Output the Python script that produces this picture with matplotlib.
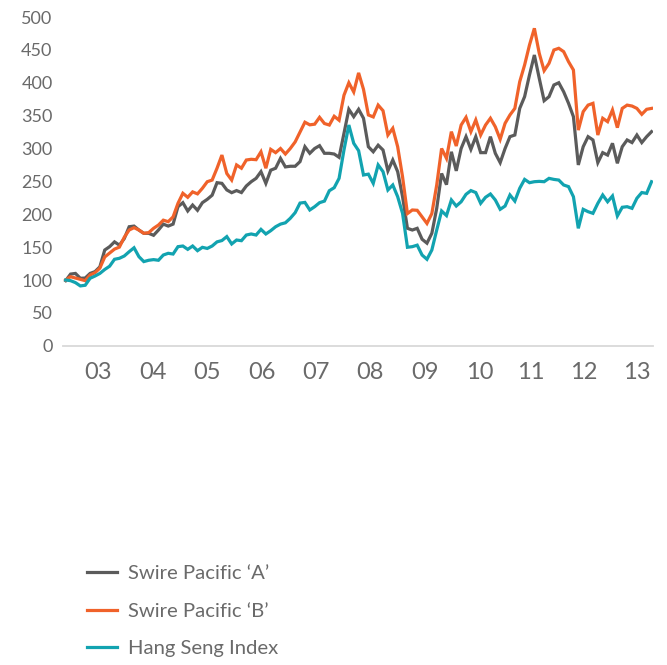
import matplotlib
matplotlib.use("Agg")
import matplotlib.pyplot as plt
import numpy as np

plt.rcParams['font.family'] = ['Lato', 'DejaVu Sans']

swire_a = [99, 109, 110, 102.6, 103, 110, 112.7, 120, 145.6, 150.7, 158, 153, 163, 181, 182, 176, 171, 171, 168, 176,
           185, 182, 185, 211.5, 217.6, 205, 214, 206, 217.6, 222.7, 229, 248, 247, 237,
           232.8, 236, 233, 243, 249.5, 254.6, 264.8, 247, 267, 270, 285, 272, 273, 273, 280, 302.7,
           292.7, 300, 304.3, 292.7, 292.7, 291.6, 286.6, 323, 359.6, 348.4, 359.6, 346, 302.7, 295, 305, 297.7,
           266, 282.5, 264.8, 226.7, 178.6, 176, 178.6, 162, 156, 171, 209, 262, 245,
           295, 266, 300, 318, 298.7, 318, 293.7, 293.7, 318, 292.7, 278.5, 300, 318, 320.5, 361, 378.8,
           411.8, 442.2, 406.8, 372.7, 378.8, 396.6, 400, 386.3, 368.7, 348.4, 275, 302.7, 318, 313, 278.5,
           293.7, 290, 307.9, 277.5, 302.7, 313, 309, 320.5, 309, 318, 325.6]

swire_b = [100, 105, 103, 101, 99, 107.6, 111, 118, 135, 141, 147, 150, 165, 176, 179.6, 176, 171, 172, 178.6, 183.6,
           191, 188.7, 196, 216.6, 231.9, 225.8, 234, 231, 239.5, 249.5, 252, 270, 290, 262,
           252, 275, 270, 282.5, 283.6, 283, 295, 270, 298.7, 293.7, 300, 291.6, 300, 310, 325, 340,
           336, 337, 347.4, 338, 335.7, 349, 343, 381, 400, 386, 415, 390, 351, 348, 366, 357.5,
           320.5, 330.7, 302.7, 257, 201, 206.5, 206, 196, 186, 201, 244.5, 300, 285,
           325.6, 303.8, 335.7, 347.4, 325.6, 343.4, 320.5, 335.7, 346, 333, 314, 338.3, 351, 361, 401.6, 427,
           457.4, 482.8, 444.8, 418.4, 429.5, 449.8, 452.4, 447.3, 432, 419.4, 328, 356, 366, 368.7, 320.5,
           346, 340.8, 358.6, 331.7, 361, 366, 364.6, 361, 352, 359.6, 361]

hang_seng = [100, 99, 96, 91, 92, 102.6, 106, 110, 116, 121, 131.5, 133, 136.5, 143, 149, 135.5, 128, 130, 131, 130,
             138, 140.6, 139.5, 150.7, 151.7, 146.6, 151.7, 144.6, 149.7, 148, 151.7, 158, 160, 166,
             154.8, 160.8, 159.8, 168.4, 170, 168.4, 177, 170, 175, 181, 185, 187, 193.8, 202.4, 217, 218,
             206.5, 211.5, 217.6, 220, 235.8, 240.4, 254.6, 297.7, 335.7, 307.9, 296.7, 259.7, 261, 247, 275, 264.8,
             236.9, 244.5, 226.7, 201.4, 149.8, 150.7, 153, 138, 131.5, 145.6, 176, 205, 198,
             221.7, 212.5, 219, 230.3, 236, 233, 216.6, 225.8, 230.8, 221.7, 207.5, 212.5, 229.3, 220, 239.5, 253,
             248, 249.5, 250, 249.5, 254.6, 253, 252, 244.5, 242, 226.7, 178.6, 207.5, 203.9, 201.4, 216.6,
             229.3, 219, 227.8, 197.4, 210.6, 211.5, 209, 224.3, 233, 231.8, 249.5]

year_labels = ['03', '04', '05', '06', '07', '08', '09', '10', '11', '12', '13']
year_label_pos = [6.6, 17.8, 29.0, 40.2, 51.3, 62.4, 73.7, 84.8, 95.2, 106.2, 116.9]

series_names = ["Swire Pacific \u2018A\u2019", "Swire Pacific \u2018B\u2019", "Hang Seng Index"]
colors = ['#5b5b5b', '#f0622a', '#12a3b0']

fig = plt.figure(figsize=(6.67, 6.65), dpi=100)
ax = fig.add_axes([63/667, 1-345.75/665, 590/667, (345.75-17)/665])

x = np.arange(len(swire_a))
lines = []
for vals, c, name in zip([swire_a, swire_b, hang_seng], colors, series_names):
    ln, = ax.plot(x, vals, color=c, lw=2.3, label=name, solid_joinstyle='miter')
    lines.append(ln)

ax.set_ylim(0, 500)
ax.set_xlim(-0.55, 120.3)
ax.set_yticks(np.arange(0, 501, 50))
ax.set_xticks(year_label_pos)
ax.set_xticklabels(year_labels)
ax.tick_params(axis='y', length=0, pad=7.5, labelsize=13, labelcolor='#6a6a6a')
ax.tick_params(axis='x', length=0, pad=12, labelsize=17, labelcolor='#6a6a6a')
for s in ['top', 'right', 'left']:
    ax.spines[s].set_visible(False)
ax.spines['bottom'].set_color('#d9d9d9')
ax.spines['bottom'].set_linewidth(1.3)

leg = fig.legend(handles=lines, loc='upper left', bbox_to_anchor=(87/667, 1-565/665),
                 frameon=False, fontsize=14.6, handlelength=1.5, handletextpad=0.5,
                 labelspacing=1.0, borderpad=0, borderaxespad=0)
for t in leg.get_texts():
    t.set_color('#6a6a6a')

fig.savefig('out.png', dpi=100)
